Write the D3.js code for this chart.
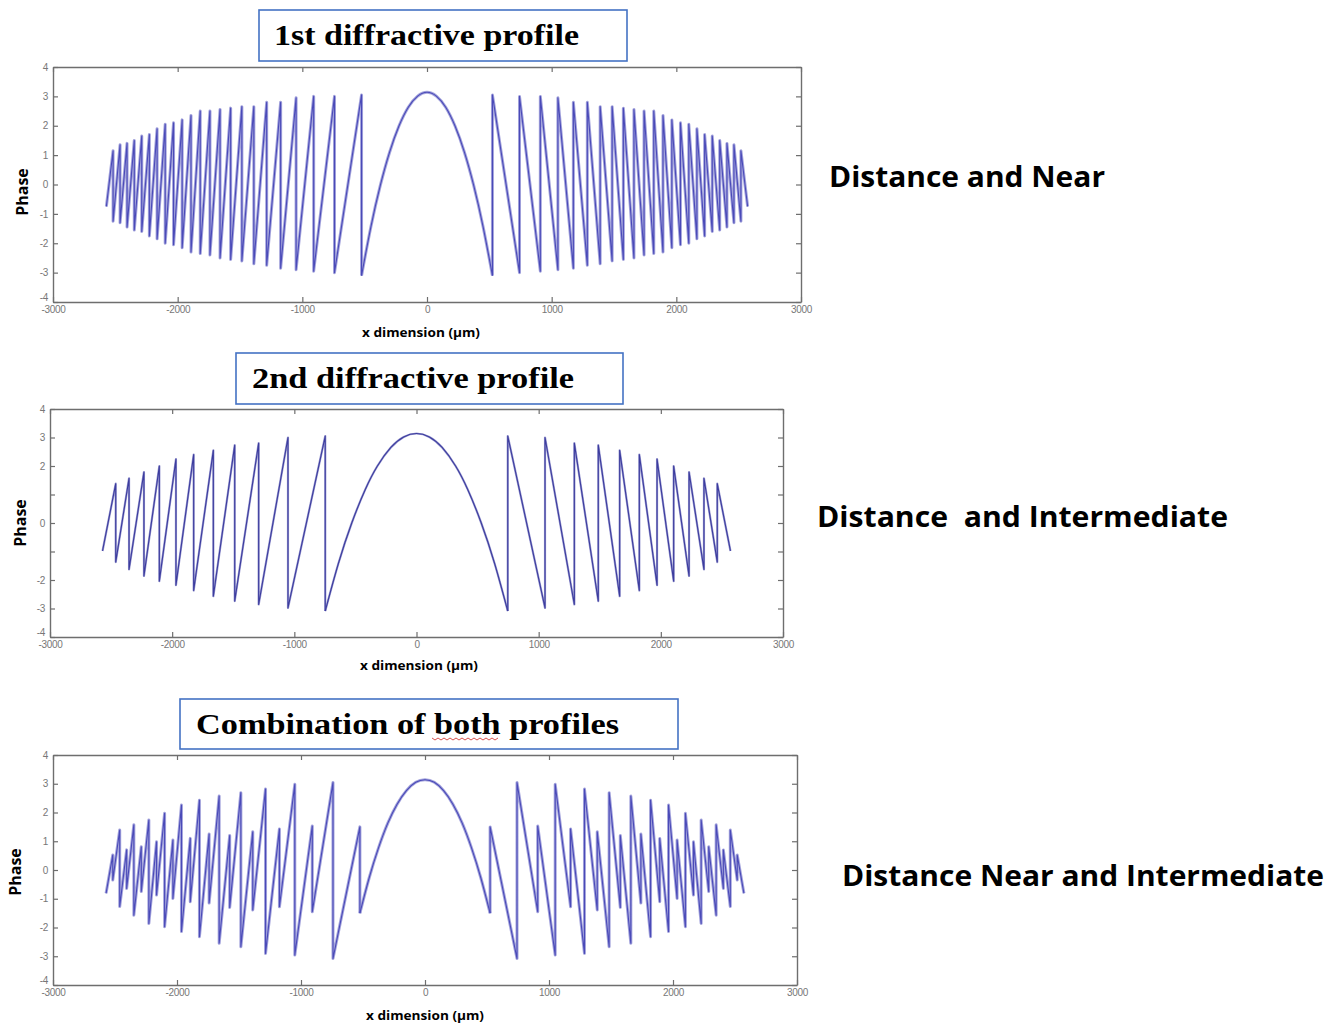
<!DOCTYPE html>
<html>
<head>
<meta charset="utf-8">
<script src="https://cdn.jsdelivr.net/npm/d3@7"></script>
<style>
  body { margin: 0; background: #fff; }
  svg { display: block; }
</style>
</head>
<body>
<div id="chart"></div>
<script>
// ---- data (x in µm, phase in rad) ----
var xTicks = [-3000, -2000, -1000, 0, 1000, 2000, 3000];
var yTicks = [-4, -3, -2, -1, 0, 1, 2, 3, 4];
var yLabels1 = ["-4", "-3", "-2", "-1", "0", "1", "2", "3", "4"];
var yLabels2 = ["-4", "-3", "-2", "", "0", "", "2", "3", "4"];
var yLabels3 = ["-4", "-3", "-2", "-1", "0", "1", "2", "3", "4"];

// 1st profile: radius of each phase wrap, value just above / below the wrap
var zones1 = [525, 742, 909, 1050, 1174, 1286, 1389, 1485, 1575, 1660, 1741, 1819, 1893, 1964, 2033, 2100, 2165, 2227, 2288, 2348, 2406, 2462, 2518];
var peaks1 = [3.05, 3.0, 3.0, 2.95, 2.8, 2.8, 2.65, 2.65, 2.6, 2.55, 2.5, 2.5, 2.35, 2.2, 2.1, 2.05, 1.9, 1.7, 1.65, 1.5, 1.4, 1.35, 1.15];
var troughs1 = [-3.1, -3.0, -2.95, -2.9, -2.85, -2.75, -2.7, -2.6, -2.55, -2.5, -2.4, -2.35, -2.3, -2.15, -2.05, -2.0, -1.85, -1.75, -1.6, -1.55, -1.45, -1.3, -1.25];
var edge1 = [2572, -0.75];
var arcX1 = [0, 75, 150, 225, 300, 375, 450, 525];
var arcY1 = [3.14, 3.01, 2.63, 1.99, 1.10, -0.04, -1.44, -3.1];

// 2nd profile
var zones2 = [747, 1052, 1292, 1488, 1663, 1824, 1969, 2105, 2231, 2353, 2462];
var peaks2 = [3.05, 3.0, 2.8, 2.73, 2.55, 2.4, 2.24, 2.0, 1.79, 1.57, 1.38];
var troughs2 = [-3.09, -2.98, -2.86, -2.74, -2.57, -2.37, -2.18, -2.04, -1.86, -1.63, -1.37];
var edge2 = [2570, -0.98];
var arcX2 = [0, 105, 210, 320, 420, 530, 640, 747];
var arcY2 = [3.14, 3.02, 2.65, 2.0, 1.17, 0.0, -1.43, -3.09];

// combination of both
var zones3 = [525, 742, 909, 1050, 1174, 1286, 1389, 1485, 1575, 1660, 1741, 1819, 1893, 1964, 2033, 2100, 2165, 2227, 2288, 2348, 2406, 2462, 2518];
var peaks3 = [1.5, 3.04, 1.53, 2.98, 1.43, 2.82, 1.33, 2.69, 1.2, 2.57, 1.25, 2.43, 1.1, 2.26, 1.04, 1.97, 0.98, 1.74, 0.81, 1.57, 0.7, 1.39, 0.52];
var troughs3 = [-1.5, -3.08, -1.45, -2.96, -1.28, -2.9, -1.39, -2.67, -1.3, -2.55, -1.15, -2.32, -1.1, -2.14, -0.99, -1.97, -0.87, -1.86, -0.75, -1.57, -0.64, -1.27, -0.35];
var edge3 = [2572, -0.81];
var arcX3 = [0, 75, 150, 225, 300, 375, 450, 525];
var arcY3 = [3.14, 3.05, 2.76, 2.29, 1.63, 0.77, -0.27, -1.5];

var titles = ["1st diffractive profile", "2nd diffractive profile", "Combination of both profiles"];
var notes = ["Distance and Near", "Distance  and Intermediate", "Distance Near and Intermediate"];

// ---- layout ----
var panels = [
  { l: 53, r: 801, t: 67, b: 302, zones: zones1, peaks: peaks1, troughs: troughs1, edge: edge1, arcX: arcX1, arcY: arcY1, yl: yLabels1,
    box: [259, 10, 627, 61], tx: 274, ty: 45, tlen: 305, xlabX: 421, xlabY: 337, phX: 28, phY: 192,
    nx: 829, ny: 187, nlen: 276, dark: false },
  { l: 50, r: 783, t: 409, b: 637, zones: zones2, peaks: peaks2, troughs: troughs2, edge: edge2, arcX: arcX2, arcY: arcY2, yl: yLabels2,
    box: [236, 353, 623, 404], tx: 252, ty: 388, tlen: 322, xlabX: 419, xlabY: 670, phX: 26, phY: 523,
    nx: 817, ny: 527, nlen: 411, dark: true },
  { l: 53, r: 797, t: 755, b: 985, zones: zones3, peaks: peaks3, troughs: troughs3, edge: edge3, arcX: arcX3, arcY: arcY3, yl: yLabels3,
    box: [180, 699, 678, 749], tx: 196, ty: 734, tlen: 423, xlabX: 425, xlabY: 1020, phX: 21, phY: 872,
    nx: 842, ny: 886, nlen: 482, dark: false }
];

var svg = d3.select("#chart").append("svg")
  .attr("width", 1340)
  .attr("height", 1024);

panels.forEach(function (p, k) {
  var x = d3.scaleLinear().domain([-3000, 3000]).range([p.l, p.r]);
  var y = d3.scaleLinear().domain([-4, 4]).range([p.b, p.t]);

  var g = svg.append("g");

  // axes, matlab style ticks pointing inwards
  var axB = g.append("g").attr("transform", "translate(0," + p.b + ")")
    .call(d3.axisBottom(x).tickValues(xTicks).tickSize(-5).tickSizeOuter(0).tickPadding(4)
      .tickFormat(function (d) { return String(d); }));
  var axT = g.append("g").attr("transform", "translate(0," + p.t + ")")
    .call(d3.axisTop(x).tickValues(xTicks).tickSize(-5).tickSizeOuter(0).tickFormat(""));
  var axL = g.append("g").attr("transform", "translate(" + p.l + ",0)")
    .call(d3.axisLeft(y).tickValues(yTicks).tickSize(-5).tickSizeOuter(0).tickPadding(5)
      .tickFormat(function (d, i) { return p.yl[i]; }));
  var axR = g.append("g").attr("transform", "translate(" + p.r + ",0)")
    .call(d3.axisRight(y).tickValues(yTicks).tickSize(-5).tickSizeOuter(0).tickFormat(""));

  [axB, axT, axL, axR].forEach(function (a) {
    a.select(".domain").attr("stroke", "#6e6e6e").attr("stroke-width", 1.4);
    a.selectAll(".tick line").attr("stroke", "#6e6e6e").attr("stroke-width", 1.2);
    a.selectAll(".tick text")
      .attr("fill", "#777")
      .attr("font-family", "Liberation Sans, Arial, sans-serif")
      .attr("font-size", 10)
      .attr("letter-spacing", "-0.3");
  });
  // the -4 label sits right on the corner, lift it clear of -3000
  axL.selectAll(".tick text").filter(function (d) { return d === -4; }).attr("dy", "-0.15em");

  // build the wrapped phase line, right half then mirror
  var right = [];
  p.zones.forEach(function (r, i) {
    right.push([r, p.troughs[i]]);
    right.push([r, p.peaks[i]]);
  });
  right.push(p.edge);
  var left = right.map(function (d) { return [-d[0], d[1]]; }).reverse();

  var arcR = p.arcX.map(function (v, i) { return [v, p.arcY[i]]; });
  var arcL = arcR.slice(1).map(function (d) { return [-d[0], d[1]]; }).reverse();
  var arc = arcL.concat(arcR);

  var line = d3.line()
    .x(function (d) { return x(d[0]); })
    .y(function (d) { return y(d[1]); });
  var smooth = d3.line()
    .x(function (d) { return x(d[0]); })
    .y(function (d) { return y(d[1]); })
    .curve(d3.curveNatural);

  var halo = p.dark ? "#9d9dd2" : "#a4a4dc";
  var core = p.dark ? "#3c3c9e" : "#4a4ab8";
  var lines = [[left, line], [right, line], [arc, smooth]];
  lines.forEach(function (s) {
    g.append("path").attr("d", s[1](s[0]))
      .attr("fill", "none").attr("stroke", halo)
      .attr("stroke-width", p.dark ? 2.2 : 3).attr("stroke-linejoin", "round");
  });
  lines.forEach(function (s) {
    g.append("path").attr("d", s[1](s[0]))
      .attr("fill", "none").attr("stroke", core)
      .attr("stroke-width", 1.1).attr("stroke-linejoin", "round");
  });

  // axis titles
  g.append("text")
    .attr("x", p.xlabX).attr("y", p.xlabY)
    .attr("text-anchor", "middle")
    .attr("font-family", "Open Sans, sans-serif")
    .attr("font-weight", "bold").attr("font-size", 12.5)
    .attr("textLength", 118).attr("lengthAdjust", "spacingAndGlyphs")
    .text("x dimension (\u00b5m)");

  g.append("text")
    .attr("transform", "translate(" + p.phX + "," + p.phY + ") rotate(-90)")
    .attr("text-anchor", "middle")
    .attr("font-family", "Open Sans, sans-serif")
    .attr("font-weight", "bold").attr("font-size", 16)
    .text("Phase");

  // boxed title
  g.append("rect")
    .attr("x", p.box[0]).attr("y", p.box[1])
    .attr("width", p.box[2] - p.box[0]).attr("height", p.box[3] - p.box[1])
    .attr("fill", "#fff").attr("stroke", "#4472c4").attr("stroke-width", 1.6);
  g.append("text")
    .attr("x", p.tx).attr("y", p.ty)
    .attr("font-family", "Liberation Serif, DejaVu Serif, serif")
    .attr("font-weight", "bold").attr("font-size", 29)
    .attr("textLength", p.tlen).attr("lengthAdjust", "spacingAndGlyphs")
    .text(titles[k]);

  // note on the right
  svg.append("text")
    .attr("x", p.nx).attr("y", p.ny)
    .attr("font-family", "Open Sans, sans-serif")
    .attr("font-weight", "bold").attr("font-size", 28)
    .style("white-space", "pre")
    .attr("textLength", p.nlen).attr("lengthAdjust", "spacingAndGlyphs")
    .text(notes[k]);
});

// spell-check squiggle under "both"
var sq = d3.path();
sq.moveTo(432, 738);
for (var i = 0; i < 22; i++) sq.lineTo(435 + i * 3, i % 2 ? 738 : 740);
svg.append("path").attr("d", sq.toString())
  .attr("fill", "none").attr("stroke", "#d9534f").attr("stroke-width", 1);
</script>
</body>
</html>
